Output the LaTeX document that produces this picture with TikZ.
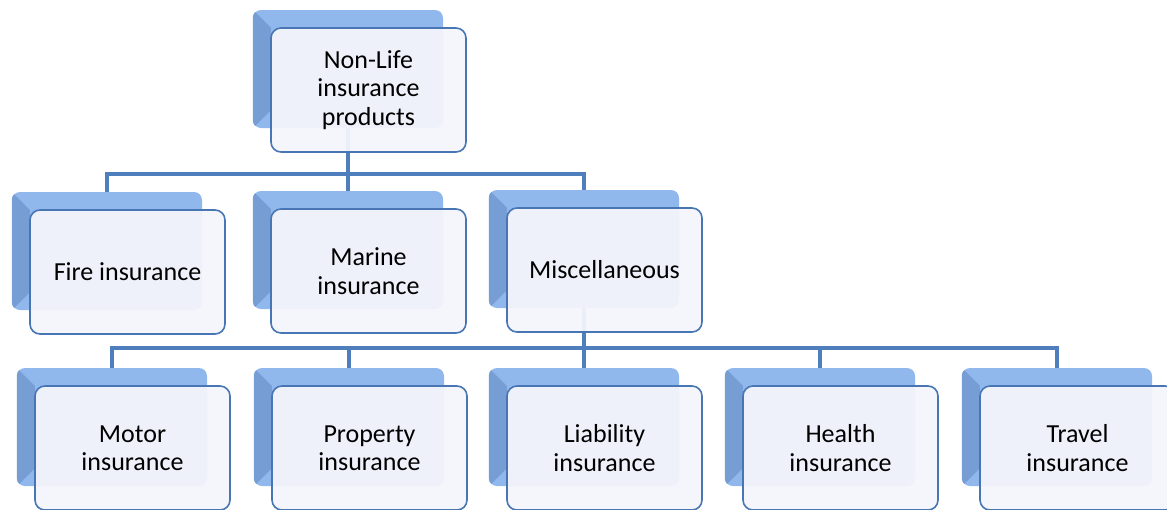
\documentclass[tikz,border=0pt]{standalone}
\usepackage{fontspec}
\setmainfont{Carlito}
\pgfdeclarelayer{bg}
\pgfsetlayers{bg,main}
\definecolor{conn}{RGB}{79,126,188}
\definecolor{backfill}{RGB}{145,184,236}
\definecolor{backdark}{RGB}{118,158,212}
\definecolor{frontfill}{RGB}{244,245,251}
\definecolor{frontdraw}{RGB}{72,118,180}
\tikzset{
  backbox/.style={fill=backfill, draw=none, rounded corners=8pt, minimum width=190pt, minimum height=118pt, inner sep=0pt},
  frontbox/.style={fill=frontfill, fill opacity=0.94, text opacity=1, draw=frontdraw, line width=1.6pt, rounded corners=10pt, minimum width=195pt, minimum height=124pt, inner sep=0pt, align=center, text=black, font=\fontsize{26}{28.5}\selectfont},
  connline/.style={draw=conn, line width=4.5pt, line join=miter}
}
\newcommand\pairbox[4]{%
  \node[backbox] (#1B) at (#2,#3) {};
  \begin{scope}
    \clip[rounded corners=8pt] (#1B.south west) rectangle (#1B.north east);
    \fill[backdark] (#1B.north west) -- ([xshift=18pt,yshift=-18pt]#1B.north west) -- ([xshift=18pt,yshift=18pt]#1B.south west) -- (#1B.south west) -- cycle;
  \end{scope}
  \node[frontbox] (#1) at ([xshift=20.5pt,yshift=-21pt]#1B.center) {#4};
}
\begin{document}
\begin{tikzpicture}[x=1pt,y=-1pt]
\useasboundingbox (0,0) rectangle (1167,509);
\pairbox{top}{348}{69}{Non-Life\\insurance\\products}
\pairbox{fire}{107}{251}{Fire insurance}
\pairbox{marine}{348}{250}{Marine\\insurance}
\pairbox{misc}{584}{249}{Miscellaneous}
\pairbox{motor}{112}{427}{Motor\\insurance}
\pairbox{property}{349}{427}{Property\\insurance}
\pairbox{liability}{584}{427}{Liability\\insurance}
\pairbox{health}{820}{427}{Health\\insurance}
\pairbox{travel}{1057}{427}{Travel\\insurance}
\coordinate (bus1) at (0,174);
\coordinate (bus2) at (0,348);
\begin{pgfonlayer}{bg}
\draw[connline] (topB.center) -- (topB.center |- bus1);
\draw[connline] (fireB.north) -- (fireB.north |- bus1) -- (miscB.north |- bus1) -- (miscB.north);
\draw[connline] (marineB.north) -- (marineB.north |- bus1);
\draw[connline] (miscB.center) -- (miscB.center |- bus2);
\draw[connline] (motorB.north) -- (motorB.north |- bus2) -- (travelB.north |- bus2) -- (travelB.north);
\draw[connline] (propertyB.north) -- (propertyB.north |- bus2);
\draw[connline] (liabilityB.north) -- (liabilityB.north |- bus2);
\draw[connline] (healthB.north) -- (healthB.north |- bus2);
\end{pgfonlayer}
\end{tikzpicture}
\end{document}
